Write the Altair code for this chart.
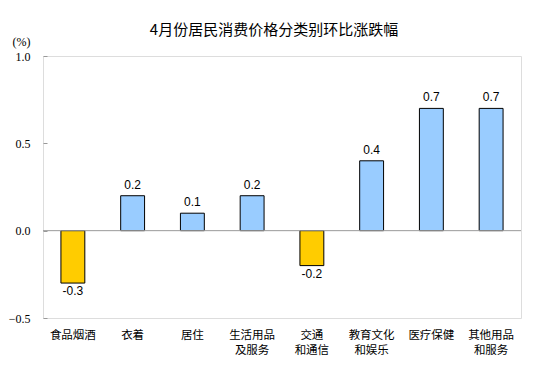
import altair as alt
import pandas as pd

categories = ["食品烟酒", "衣着", "居住", "生活用品\n及服务", "交通\n和通信", "教育文化\n和娱乐", "医疗保健", "其他用品\n和服务"]
values = [-0.3, 0.2, 0.1, 0.2, -0.2, 0.4, 0.7, 0.7]
y_ticks = [-0.5, 0.0, 0.5, 1.0]

df = pd.DataFrame({"cat": categories, "val": values})
df["label"] = df["val"].map(lambda v: f"{v:.1f}")

x_enc = alt.X("cat:N", sort=categories,
              scale=alt.Scale(paddingInner=0.6, paddingOuter=0.3),
              axis=alt.Axis(title=None, domain=False, ticks=False, labelAngle=0,
                            labelExpr="split(datum.label, '\\n')",
                            labelFont="Noto Sans CJK SC", labelFontSize=11.5,
                            labelColor="#000000", labelPadding=11, labelLineHeight=15,
                            labelAlign="center", labelBaseline="top"))
y_enc = alt.Y("val:Q", scale=alt.Scale(domain=[-0.5, 1.0], nice=False),
              axis=alt.Axis(values=y_ticks, format=".1f", grid=False, domain=False,
                            tickSize=4, tickColor="#999999", offset=-4,
                            labelFont="Liberation Serif", labelFontSize=12,
                            labelColor="#000000", labelPadding=13,
                            title="(%)", titleAngle=0, titleAlign="left",
                            titleBaseline="bottom", titleX=-35, titleY=-8,
                            titleFont="Liberation Serif", titleFontSize=12,
                            titleFontWeight="normal", titleColor="#000000"))

bars = alt.Chart(df).mark_bar(stroke="#000000", strokeWidth=1).encode(
    x=x_enc, y=y_enc,
    color=alt.condition("datum.val < 0", alt.value("#FFCC00"), alt.value("#99CCFF")),
)

zero = alt.Chart(pd.DataFrame({"z": [0.0]})).mark_rule(color="#999999", strokeWidth=1).encode(
    y=alt.Y("z:Q"))

pos_lab = alt.Chart(df).transform_filter("datum.val >= 0").mark_text(
    font="Liberation Sans", fontSize=12, baseline="bottom", dy=-4, color="#000000"
).encode(x=alt.X("cat:N", sort=categories), y="val:Q", text="label:N")

neg_lab = alt.Chart(df).transform_filter("datum.val < 0").mark_text(
    font="Liberation Sans", fontSize=12, baseline="top", dy=3, color="#000000"
).encode(x=alt.X("cat:N", sort=categories), y="val:Q", text="label:N")

chart = alt.layer(bars, zero, pos_lab, neg_lab).properties(
    width=478, height=262,
    title=alt.TitleParams("4月份居民消费价格分类别环比涨跌幅", font="Noto Sans CJK SC",
                          fontSize=15, fontWeight="normal", color="#000000",
                          anchor="middle", offset=-3, dx=-8),
    autosize=alt.AutoSizeParams(type="none"),
    padding={"left": 35, "top": 48, "right": 25, "bottom": 58},
).configure_view(stroke="#999999", strokeWidth=1).configure(background="#ffffff")

chart.save("out.html", embed_options={"renderer": "svg", "actions": False})
